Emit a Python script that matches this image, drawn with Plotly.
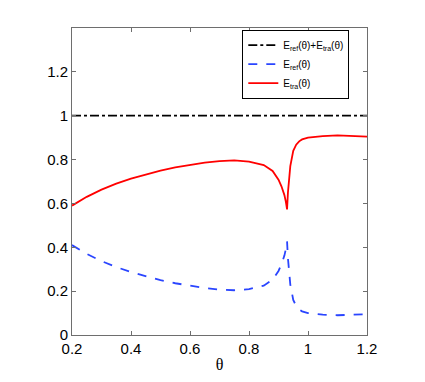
import plotly.graph_objects as go

theta = [0.2, 0.25, 0.3, 0.35, 0.4, 0.45, 0.5, 0.55, 0.6, 0.65, 0.7, 0.75,
         0.8, 0.85, 0.88, 0.9, 0.91, 0.92, 0.925, 0.929, 0.932, 0.935, 0.94,
         0.95, 0.96, 0.97, 0.98, 1.0, 1.05, 1.1, 1.15, 1.2]

e_tra = [0.59, 0.63, 0.663, 0.69, 0.713, 0.733, 0.75, 0.764, 0.776, 0.786,
         0.793, 0.796, 0.791, 0.775, 0.748, 0.708, 0.678, 0.638, 0.607, 0.573,
         0.65, 0.71, 0.77, 0.84, 0.868, 0.883, 0.892, 0.9, 0.907, 0.91, 0.909,
         0.905]

e_ref = [0.41, 0.37, 0.337, 0.31, 0.287, 0.267, 0.25, 0.236, 0.224, 0.214,
         0.207, 0.204, 0.209, 0.225, 0.252, 0.292, 0.322, 0.362, 0.393, 0.427,
         0.35, 0.29, 0.23, 0.16, 0.132, 0.117, 0.108, 0.1, 0.093, 0.09, 0.091,
         0.095]

e_sum = [1.0] * len(theta)

fig = go.Figure()

fig.add_trace(go.Scatter(x=theta, y=e_sum, mode="lines",
                         name="E<sub>ref</sub>(θ)+E<sub>tra</sub>(θ)",
                         line=dict(color="black", dash="dashdot", width=1.8)))
fig.add_trace(go.Scatter(x=theta, y=e_ref, mode="lines",
                         name="E<sub>ref</sub>(θ)",
                         line=dict(color="#2a45ff", dash="dash", width=1.8)))
fig.add_trace(go.Scatter(x=theta, y=e_tra, mode="lines",
                         name="E<sub>tra</sub>(θ)",
                         line=dict(color="#ff0000", width=1.8)))

axis_style = dict(showline=True, linecolor="#6e6e6e", linewidth=1, mirror="ticks",
                  ticks="inside", ticklen=4, tickcolor="#6e6e6e",
                  showgrid=False, zeroline=False,
                  tickfont=dict(family="Liberation Sans, Arial", size=15, color="black"))

fig.update_xaxes(range=[0.2, 1.2], dtick=0.2, tick0=0.2,
                 title=dict(text="θ", font=dict(family="Liberation Serif", size=16, color="black"),
                            standoff=2),
                 **axis_style)
fig.update_yaxes(range=[0, 1.4], tickvals=[0, 0.2, 0.4, 0.6, 0.8, 1, 1.2], **axis_style)

# page body adds an 8px offset, so the figure is a bit smaller than the window
fig.update_layout(
    width=417, height=374,
    margin=dict(l=64, r=58, t=20, b=40),
    plot_bgcolor="white", paper_bgcolor="white",
    legend=dict(x=0.94, y=0.995, xanchor="right", yanchor="top",
                bordercolor="black", borderwidth=1, bgcolor="white",
                font=dict(family="Liberation Sans, Arial", size=10, color="black"),
                itemwidth=30, tracegroupgap=0),
    showlegend=True,
)

fig.write_html("out.html")
